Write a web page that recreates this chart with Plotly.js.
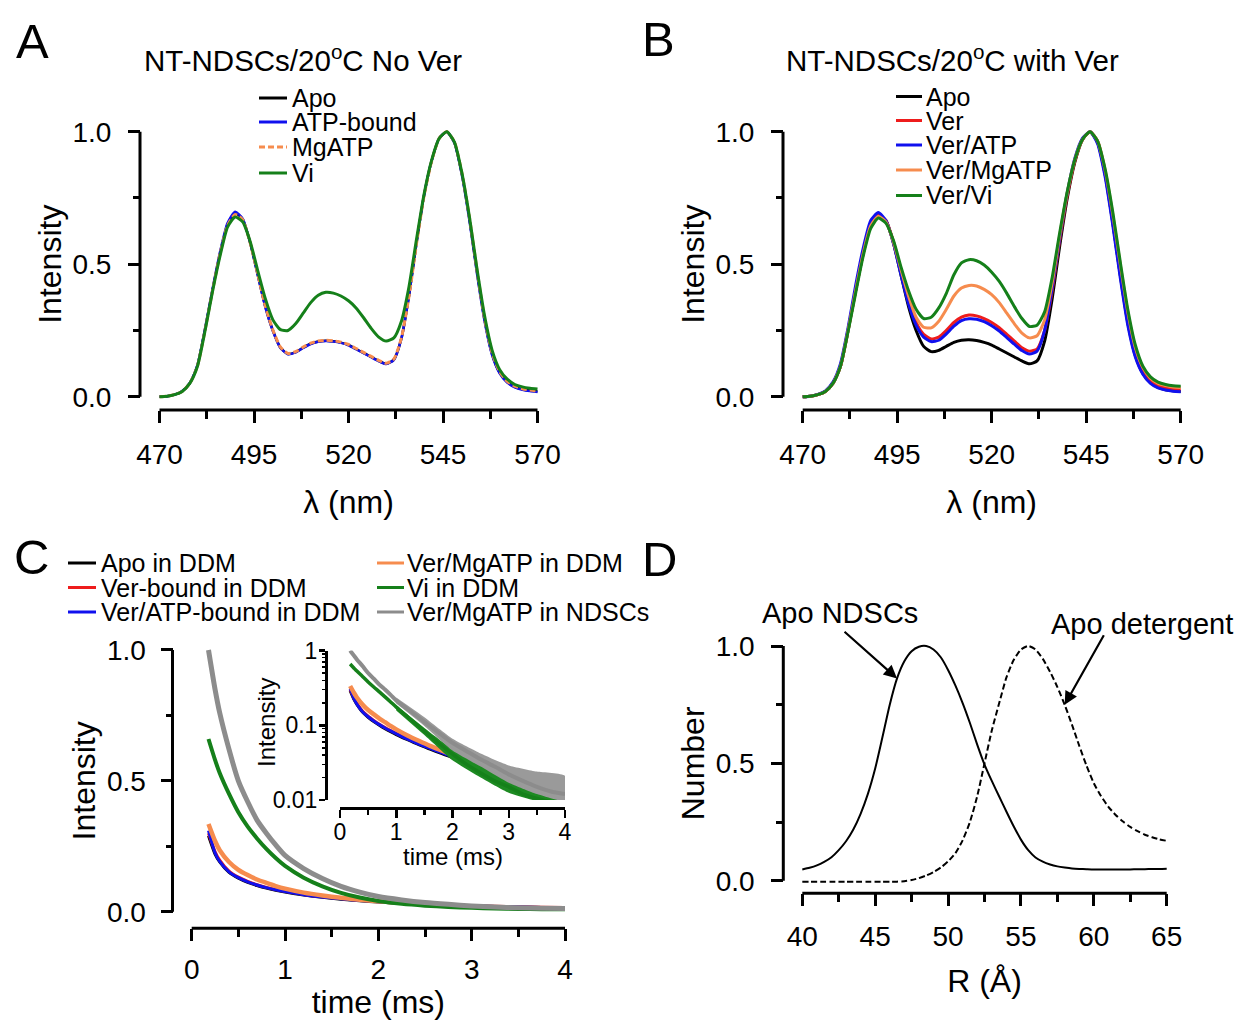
<!DOCTYPE html>
<html>
<head>
<meta charset="utf-8">
<script src="https://cdn.plot.ly/plotly-3.0.1.min.js"></script>
<style>html,body{margin:0;padding:0;background:#fff;}#chart{width:1241px;height:1020px;}</style>
</head>
<body>
<div id="chart"></div>
<script>
// ---------------- DATA ----------------
// Panel A / B : emission spectra (wavelength in nm)
const wavelength = [470,472,474,476,478,480,482,484,486,488,490,492,494,496,498,500,502,504,506,508,510,512,514,516,518,520,522,524,526,528,530,532,534,536,538,540,542,544,546,548,550,552,554,556,558,560,562,564,566,568,570];

const A_apo   = [0,0.002,0.008,0.02,0.05,0.115,0.25,0.40,0.54,0.65,0.693,0.67,0.58,0.46,0.34,0.25,0.185,0.161,0.168,0.185,0.2,0.208,0.211,0.209,0.204,0.195,0.18,0.165,0.15,0.135,0.124,0.14,0.22,0.38,0.58,0.76,0.89,0.975,1.0,0.96,0.84,0.67,0.47,0.29,0.16,0.09,0.055,0.037,0.028,0.023,0.02];
const A_atp   = [0,0.002,0.008,0.021,0.052,0.118,0.254,0.405,0.545,0.655,0.698,0.672,0.58,0.458,0.338,0.248,0.184,0.16,0.167,0.184,0.199,0.207,0.21,0.208,0.203,0.194,0.179,0.164,0.149,0.134,0.123,0.139,0.22,0.382,0.582,0.762,0.891,0.975,1.0,0.958,0.836,0.664,0.464,0.285,0.157,0.088,0.053,0.035,0.026,0.021,0.018];
const A_mgatp = [0,0.002,0.008,0.02,0.05,0.114,0.248,0.398,0.538,0.646,0.688,0.668,0.58,0.462,0.342,0.252,0.187,0.163,0.17,0.187,0.202,0.21,0.213,0.211,0.206,0.197,0.182,0.167,0.152,0.137,0.126,0.142,0.222,0.378,0.578,0.758,0.889,0.975,1.0,0.962,0.844,0.676,0.476,0.295,0.165,0.094,0.058,0.04,0.03,0.025,0.022];
const A_vi    = [0,0.002,0.008,0.02,0.05,0.113,0.245,0.395,0.53,0.64,0.678,0.66,0.585,0.475,0.37,0.29,0.253,0.25,0.275,0.315,0.355,0.383,0.394,0.391,0.38,0.362,0.335,0.298,0.258,0.225,0.21,0.222,0.285,0.415,0.595,0.765,0.893,0.975,1.0,0.962,0.845,0.678,0.482,0.305,0.175,0.102,0.066,0.046,0.037,0.032,0.029];

const B_apo       = [0,0.002,0.008,0.02,0.05,0.115,0.25,0.40,0.54,0.65,0.685,0.665,0.58,0.46,0.34,0.25,0.19,0.17,0.175,0.19,0.205,0.213,0.215,0.212,0.205,0.195,0.18,0.165,0.15,0.135,0.124,0.135,0.21,0.37,0.57,0.75,0.885,0.97,1.0,0.96,0.84,0.66,0.46,0.28,0.155,0.088,0.053,0.035,0.026,0.022,0.02];
const B_ver       = [0,0.002,0.008,0.02,0.05,0.115,0.25,0.40,0.54,0.65,0.685,0.665,0.585,0.47,0.36,0.28,0.235,0.218,0.225,0.25,0.28,0.30,0.308,0.305,0.295,0.28,0.26,0.235,0.21,0.185,0.172,0.18,0.25,0.40,0.59,0.76,0.89,0.97,1.0,0.965,0.85,0.68,0.48,0.30,0.165,0.095,0.06,0.042,0.033,0.028,0.026];
const B_verAtp    = [0,0.002,0.009,0.022,0.055,0.125,0.26,0.42,0.56,0.665,0.695,0.665,0.58,0.46,0.35,0.27,0.225,0.208,0.213,0.237,0.266,0.287,0.294,0.292,0.283,0.268,0.248,0.223,0.198,0.174,0.161,0.172,0.25,0.41,0.60,0.77,0.90,0.975,1.0,0.955,0.83,0.65,0.45,0.27,0.15,0.085,0.05,0.033,0.025,0.021,0.019];
const B_verMgatp  = [0,0.002,0.008,0.02,0.05,0.115,0.25,0.40,0.54,0.645,0.68,0.66,0.585,0.48,0.38,0.30,0.262,0.26,0.285,0.33,0.38,0.41,0.42,0.418,0.405,0.385,0.355,0.315,0.275,0.24,0.222,0.23,0.29,0.43,0.61,0.77,0.895,0.97,1.0,0.965,0.855,0.69,0.50,0.32,0.185,0.11,0.07,0.05,0.042,0.037,0.035];
const B_verVi     = [0,0.002,0.008,0.02,0.05,0.115,0.245,0.39,0.53,0.635,0.674,0.655,0.59,0.49,0.40,0.33,0.295,0.30,0.335,0.39,0.46,0.505,0.517,0.513,0.497,0.47,0.435,0.39,0.34,0.295,0.265,0.27,0.32,0.45,0.62,0.775,0.895,0.97,1.0,0.965,0.86,0.70,0.51,0.33,0.195,0.115,0.075,0.055,0.046,0.041,0.039];

// Panel C : decays (time in ms)
const timeC      = [0.18,0.25,0.3,0.4,0.5,0.6,0.7,0.8,0.9,1.0,1.2,1.4,1.6,1.8,2.0,2.25,2.5,2.75,3.0,3.25,3.5,3.75,4.0];
const timeC_mg   = [0.18,0.25,0.3,0.4,0.5,0.6,0.7,0.8,0.9,1.0,1.2,1.4,1.6,1.8,2.0,2.25,2.45];
const C_apo      = [0.29,0.22,0.19,0.15,0.128,0.112,0.1,0.09,0.082,0.075,0.064,0.055,0.048,0.042,0.037,0.032,0.028,0.025,0.022,0.02,0.018,0.016,0.015];
const C_ver      = [0.30,0.23,0.197,0.155,0.132,0.116,0.103,0.093,0.085,0.078,0.066,0.057,0.05,0.044,0.039,0.033,0.029,0.026,0.023,0.021,0.019,0.017,0.016];
const C_verAtp   = [0.31,0.225,0.192,0.152,0.13,0.114,0.102,0.092,0.084,0.077,0.065,0.056,0.049,0.043,0.038,0.032,0.028,0.025,0.022,0.02,0.018,0.016,0.015];
const C_verMgatp = [0.335,0.27,0.235,0.19,0.16,0.14,0.123,0.11,0.098,0.088,0.073,0.062,0.053,0.046,0.04,0.034,0.03];
const C_vi       = [0.66,0.58,0.53,0.45,0.38,0.325,0.28,0.24,0.205,0.175,0.13,0.097,0.072,0.054,0.041,0.03,0.023,0.018,0.015,0.012,0.0105,0.0095,0.009];
const C_ndsc     = [1.0,0.85,0.76,0.62,0.50,0.42,0.35,0.30,0.255,0.215,0.165,0.127,0.097,0.075,0.058,0.045,0.035,0.028,0.022,0.018,0.015,0.013,0.012];
// noise envelopes seen in the log inset (upper / lower edge of the noisy band)
const timeEnv    = [1.0,1.5,2.0,2.5,3.0,3.5,4.0];
const C_ndsc_hi  = [0.235,0.128,0.066,0.042,0.029,0.024,0.021];
const C_ndsc_lo  = [0.195,0.098,0.046,0.028,0.017,0.012,0.0098];
const C_vi_hi    = [0.185,0.092,0.048,0.03,0.019,0.014,0.0115];
const C_vi_lo    = [0.158,0.074,0.034,0.02,0.0125,0.0097,0.009];

// Panel D : size distributions (R in Angstrom)
const radiusD = [40,40.5,41,41.5,42,42.5,43,43.5,44,44.5,45,45.5,46,46.5,47,47.5,48,48.5,49,49.5,50,50.5,51,51.5,52,52.5,53,53.5,54,54.5,55,55.5,56,56.5,57,57.5,58,58.5,59,59.5,60,60.5,61,61.5,62,62.5,63,63.5,64,64.5,65];
const D_ndsc = [0.048,0.055,0.065,0.08,0.1,0.13,0.168,0.218,0.285,0.37,0.478,0.612,0.75,0.862,0.935,0.978,0.997,1.0,0.985,0.952,0.898,0.832,0.757,0.672,0.58,0.495,0.425,0.36,0.295,0.232,0.175,0.13,0.099,0.081,0.069,0.061,0.056,0.052,0.05,0.049,0.048,0.048,0.048,0.048,0.048,0.048,0.049,0.049,0.05,0.05,0.051];
const D_det  = [-0.004,-0.004,-0.004,-0.004,-0.004,-0.004,-0.004,-0.004,-0.004,-0.004,-0.004,-0.004,-0.004,-0.004,-0.002,0.003,0.011,0.022,0.037,0.056,0.082,0.117,0.172,0.25,0.36,0.5,0.64,0.755,0.865,0.94,0.985,1.0,0.985,0.945,0.89,0.825,0.75,0.665,0.575,0.49,0.415,0.36,0.315,0.28,0.252,0.229,0.211,0.196,0.185,0.176,0.17];

// labels
const legendA = ['Apo','ATP-bound','MgATP','Vi'];
const legendB = ['Apo','Ver','Ver/ATP','Ver/MgATP','Ver/Vi'];
const legendC = ['Apo in DDM','Ver-bound in DDM','Ver/ATP-bound in DDM','Ver/MgATP in DDM','Vi in DDM','Ver/MgATP in NDSCs'];
const labelsD = ['Apo NDSCs','Apo detergent'];

// ---------------- STYLE / LAYOUT ----------------
const W = 1241, H = 1020;
const FONT = '"Liberation Sans", Arial, Helvetica, sans-serif';
const COL = {black:'#000000', red:'#ee1c1c', blue:'#1010ee', orange:'#f68c4e', green:'#15801a', gray:'#8c8c8c'};
const BAND = {green:'#1d8a22', gray:'#9a9a9a'};
const px = p => p / W;
const py = p => 1 - p / H;
function domX(p0, p1, v0, v1, r) { const s = (p1 - p0) / (v1 - v0); return [(p0 + (r[0] - v0) * s) / W, (p0 + (r[1] - v0) * s) / W]; }
function domY(p0, p1, v0, v1, r) { const s = (p1 - p0) / (v1 - v0); const a = p0 + (r[0] - v0) * s, b = p0 + (r[1] - v0) * s; return [1 - a / H, 1 - b / H]; }

const TICKF = {family: FONT, size: 28, color: '#000'};
const TITLEF = {family: FONT, size: 32, color: '#000'};
const INSETF = {family: FONT, size: 23, color: '#000'};

function axis(extra) {
  return Object.assign({
    anchor: 'free', showgrid: false, zeroline: false, showline: false,
    ticks: 'outside', ticklen: 12, tickwidth: 3, tickcolor: '#000',
    tickfont: TICKF, fixedrange: true, automargin: false
  }, extra);
}
function minor(len, dt, t0, w) { return {ticks: 'outside', ticklen: len, tickwidth: w || 3, tickcolor: '#000', dtick: dt, tick0: t0, showgrid: false}; }

function line(xs, ys, xa, ya, color, width, dash, name) {
  return {type: 'scatter', mode: 'lines', x: xs, y: ys, xaxis: xa, yaxis: ya, name: name,
          line: {color: color, width: width, dash: dash || 'solid', shape: 'spline', smoothing: 0.6},
          hoverinfo: 'skip', showlegend: false};
}
function band(xs, hi, lo, xa, ya, color, name) {
  return {type: 'scatter', mode: 'lines', x: xs.concat(xs.slice().reverse()), y: hi.concat(lo.slice().reverse()),
          xaxis: xa, yaxis: ya, name: name, fill: 'toself', fillcolor: color, line: {width: 0, color: color, shape: 'spline', smoothing: 0.5},
          hoverinfo: 'skip', showlegend: false};
}

const rWl = [468.5, 571.5], rI = [-0.025, 1.025];
const rTime = [-0.05, 4.05], rR = [39.5, 65.5];

const traces = [
  // A
  line(wavelength, A_apo,   'x', 'y', COL.black, 2.5, null, legendA[0]),
  line(wavelength, A_atp,   'x', 'y', COL.blue, 2.5, null, legendA[1]),
  line(wavelength, A_mgatp, 'x', 'y', COL.orange, 3, '6px,3px', legendA[2]),
  line(wavelength, A_vi,    'x', 'y', COL.green, 3, null, legendA[3]),
  // B
  line(wavelength, B_apo,      'x2', 'y2', COL.black, 3, null, legendB[0]),
  line(wavelength, B_ver,      'x2', 'y2', COL.red, 3, null, legendB[1]),
  line(wavelength, B_verAtp,   'x2', 'y2', COL.blue, 3, null, legendB[2]),
  line(wavelength, B_verMgatp, 'x2', 'y2', COL.orange, 3, null, legendB[3]),
  line(wavelength, B_verVi,    'x2', 'y2', COL.green, 3, null, legendB[4]),
  // C main
  line(timeC,    C_apo,      'x3', 'y3', COL.black, 3, null, legendC[0]),
  line(timeC,    C_ver,      'x3', 'y3', COL.red, 3, null, legendC[1]),
  line(timeC,    C_verAtp,   'x3', 'y3', COL.blue, 3, null, legendC[2]),
  line(timeC_mg, C_verMgatp, 'x3', 'y3', COL.orange, 4.5, null, legendC[3]),
  line(timeC,    C_vi,       'x3', 'y3', COL.green, 4, null, legendC[4]),
  line(timeC,    C_ndsc,     'x3', 'y3', COL.gray, 5, null, legendC[5]),
  // C inset (log)
  line(timeC,    C_apo,      'x4', 'y4', COL.black, 3, null, legendC[0]),
  line(timeC,    C_ver,      'x4', 'y4', COL.red, 3, null, legendC[1]),
  line(timeC,    C_verAtp,   'x4', 'y4', COL.blue, 3, null, legendC[2]),
  line(timeC_mg, C_verMgatp, 'x4', 'y4', COL.orange, 4.5, null, legendC[3]),
  band(timeEnv,  C_vi_hi, C_vi_lo, 'x4', 'y4', BAND.green, legendC[4]),
  line(timeC,    C_vi,       'x4', 'y4', COL.green, 3.5, null, legendC[4]),
  band(timeEnv,  C_ndsc_hi, C_ndsc_lo, 'x4', 'y4', BAND.gray, legendC[5]),
  line(timeC,    C_ndsc,     'x4', 'y4', COL.gray, 4, null, legendC[5]),
  // D
  line(radiusD, D_ndsc, 'x5', 'y5', COL.black, 2, null, labelsD[0]),
  line(radiusD, D_det,  'x5', 'y5', COL.black, 2, '6px,3px', labelsD[1])
];

const shapes = [];
const annotations = [];
function xLine(xa, v0, v1, yp) { shapes.push({type: 'line', xref: xa, yref: 'paper', x0: v0, x1: v1, y0: py(yp), y1: py(yp), line: {color: '#000', width: 3}}); }
function yLine(ya, v0, v1, xp) { shapes.push({type: 'line', xref: 'paper', yref: ya, x0: px(xp), x1: px(xp), y0: v0, y1: v1, line: {color: '#000', width: 3}}); }
function text(xp, yp, t, size, anchor, angle) {
  annotations.push({xref: 'paper', yref: 'paper', x: px(xp), y: py(yp), text: t, showarrow: false, textangle: angle || 0,
    xanchor: anchor || 'center', yanchor: 'middle', font: {family: FONT, size: size, color: '#000'}});
}
function legendItem(x0, x1, yp, color, dash, label, tx) {
  shapes.push({type: 'line', xref: 'paper', yref: 'paper', x0: px(x0), x1: px(x1), y0: py(yp), y1: py(yp), line: {color: color, width: 3, dash: dash || 'solid'}});
  text(tx, yp, label, 25, 'left');
}

// axis lines (detached axes)
xLine('x', 470, 570, 410);  yLine('y', 0, 1, 140);
xLine('x2', 470, 570, 410); yLine('y2', 0, 1, 783);
xLine('x3', 0, 4, 928.3);   yLine('y3', 0, 1, 172.5);
xLine('x5', 40, 65, 893.3); yLine('y5', 0, 1, 783.3);

// panel letters + titles
text(32, 41, 'A', 49); text(658, 39, 'B', 49); text(31, 557, 'C', 49); text(659, 559, 'D', 49);
text(302.5, 58, 'NT-NDSCs/20<sup>o</sup>C No Ver', 29.5);
text(952, 58, 'NT-NDSCs/20<sup>o</sup>C with Ver', 29.5);

// legends
const legAcol = [COL.black, COL.blue, COL.orange, COL.green];
const legAdash = [null, null, '6px,3px', null];
const legAy = [98, 122, 147, 173];
legendA.forEach((l, i) => legendItem(259, 287, legAy[i], legAcol[i], legAdash[i], l, 290));
const legBcol = [COL.black, COL.red, COL.blue, COL.orange, COL.green];
const legBy = [96.5, 120.5, 145, 170, 195.5];
legendB.forEach((l, i) => legendItem(896, 922, legBy[i], legBcol[i], null, l, 924));
const legCcol = [COL.black, COL.red, COL.blue, COL.orange, COL.green, COL.gray];
const legCy = [563, 587.5, 612];
legendC.forEach((l, i) => {
  const col = i < 3 ? 0 : 1, row = i % 3;
  if (col === 0) legendItem(68, 96, legCy[row], legCcol[i], null, l, 99);
  else legendItem(377, 404, legCy[row], legCcol[i], null, l, 405);
});

// inset axis titles
text(452.5, 856, 'time (ms)', 24);
text(266, 723, 'Intensity', 24, 'center', -90);

// D labels with arrows
text(840, 613, labelsD[0], 29);
text(1142, 624, labelsD[1], 29);
annotations.push({xref: 'x5', yref: 'y5', x: radiusD[13], y: D_ndsc[13], ax: -54, ay: -48, text: '', showarrow: true,
  arrowhead: 2, arrowsize: 1.2, arrowwidth: 2.2, arrowcolor: '#000', standoff: 0, startstandoff: 0});
annotations.push({xref: 'x5', yref: 'y5', x: radiusD[36], y: D_det[36], ax: 40, ay: -71, text: '', showarrow: true,
  arrowhead: 2, arrowsize: 1.2, arrowwidth: 2.2, arrowcolor: '#000', standoff: 0, startstandoff: 0});

const layout = {
  width: W, height: H, margin: {l: 0, r: 0, t: 0, b: 0, pad: 0},
  paper_bgcolor: '#fff', plot_bgcolor: 'rgba(0,0,0,0)', showlegend: false, hovermode: false,
  font: {family: FONT, color: '#000'},
  // A
  xaxis: axis({domain: domX(159.5, 537.5, 470, 570, rWl), range: rWl, position: py(410), tick0: 470, dtick: 25,
    ticklabelstandoff: 7, minor: minor(8, 12.5, 470), title: {text: 'λ (nm)', font: TITLEF, standoff: 22}}),
  yaxis: axis({domain: domY(396.7, 131.7, 0, 1, rI), range: rI, position: px(140), tick0: 0, dtick: 0.5, tickformat: '.1f',
    ticklabelstandoff: 11, minor: minor(7, 0.25, 0), title: {text: 'Intensity', font: TITLEF, standoff: 0}}),
  // B
  xaxis2: axis({domain: domX(802.7, 1180.7, 470, 570, rWl), range: rWl, position: py(410), tick0: 470, dtick: 25,
    ticklabelstandoff: 7, minor: minor(8, 12.5, 470), title: {text: 'λ (nm)', font: TITLEF, standoff: 22}}),
  yaxis2: axis({domain: domY(396.7, 131.7, 0, 1, rI), range: rI, position: px(783), tick0: 0, dtick: 0.5, tickformat: '.1f',
    ticklabelstandoff: 11, minor: minor(7, 0.25, 0), title: {text: 'Intensity', font: TITLEF, standoff: 0}}),
  // C main
  xaxis3: axis({domain: domX(191.7, 565, 0, 4, rTime), range: rTime, position: py(928.3), tick0: 0, dtick: 1,
    ticklabelstandoff: 4, minor: minor(8, 0.5, 0), title: {text: 'time (ms)', font: TITLEF, standoff: 14}}),
  yaxis3: axis({domain: domY(911.7, 650, 0, 1, rI), range: rI, position: px(172.5), tick0: 0, dtick: 0.5, tickformat: '.1f',
    ticklabelstandoff: 9, minor: minor(7, 0.25, 0), title: {text: 'Intensity', font: TITLEF, standoff: 0}}),
  // C inset
  xaxis4: axis({domain: domX(340, 565, 0, 4, [0, 4]), range: [0, 4], position: py(808.3), showline: true, linewidth: 2.5, linecolor: '#000',
    tick0: 0, dtick: 1, ticklen: 8, tickwidth: 2.5, tickfont: INSETF, ticklabelstandoff: -5,
    minor: minor(5, 0.5, 0, 2.5)}),
  yaxis4: axis({type: 'log', domain: domY(800, 650.5, -2, 0, [-2, 0]), range: [-2, 0], position: px(326), showline: true, linewidth: 2.5, linecolor: '#000',
    dtick: 1, ticklen: 6, tickwidth: 2.5, tickfont: INSETF, ticklabelstandoff: -3,
    minor: {ticks: 'outside', ticklen: 3.5, tickwidth: 1.5, tickcolor: '#000', dtick: 'D1', showgrid: false}}),
  // D
  xaxis5: axis({domain: domX(802.3, 1166.7, 40, 65, rR), range: rR, position: py(893.3), tick0: 40, dtick: 5,
    ticklabelstandoff: 6, minor: minor(8, 2.5, 40), title: {text: 'R (Å)', font: TITLEF, standoff: 18}}),
  yaxis5: axis({domain: domY(880.7, 646, 0, 1, rI), range: rI, position: px(783.3), tick0: 0, dtick: 0.5, tickformat: '.1f',
    ticklabelstandoff: 11, minor: minor(7, 0.25, 0), title: {text: 'Number', font: TITLEF, standoff: 0}}),
  shapes: shapes,
  annotations: annotations
};

Plotly.newPlot('chart', traces, layout, {displayModeBar: false, staticPlot: true});
</script>
</body>
</html>
